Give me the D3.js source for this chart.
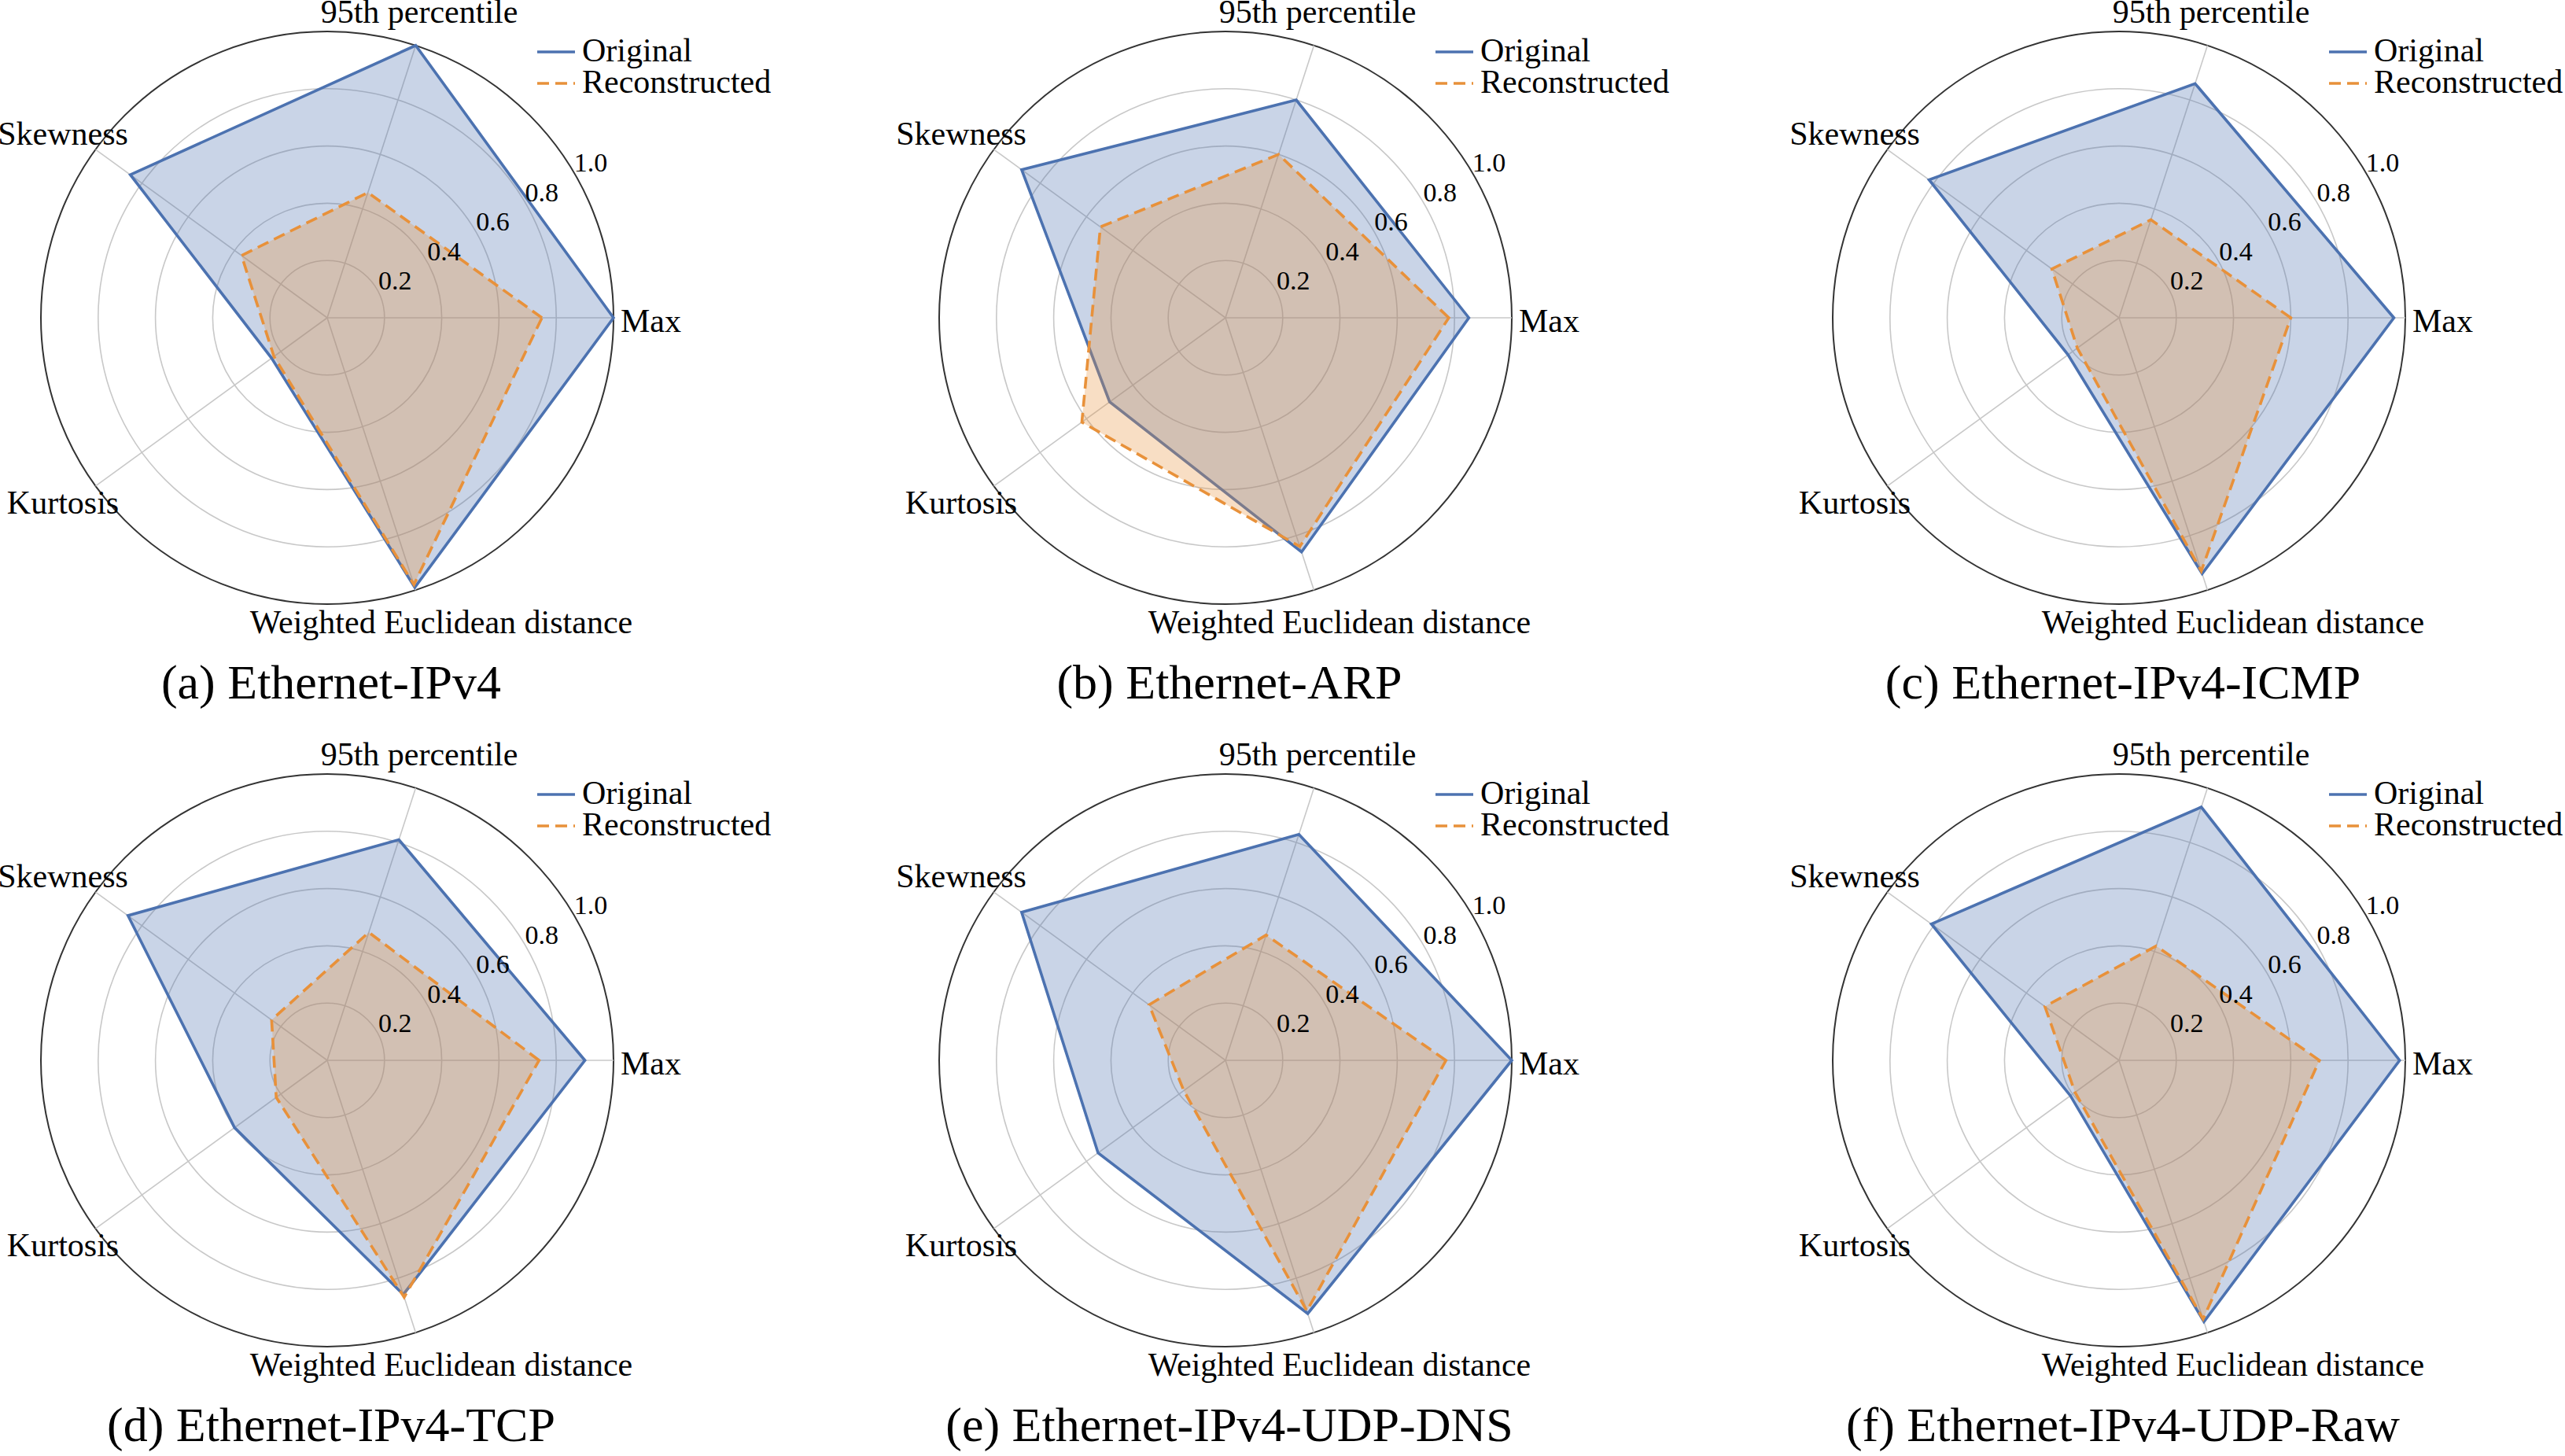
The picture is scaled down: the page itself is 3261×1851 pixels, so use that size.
<!DOCTYPE html>
<html>
<head>
<meta charset="utf-8">
<script src="https://cdn.jsdelivr.net/npm/d3@7"></script>
<style>
  body { margin: 0; background: #fff; }
  text { font-family: "Liberation Serif", "DejaVu Serif", serif; fill: #000; }
</style>
</head>
<body>
<script>
// axes, starting at the right and going counter-clockwise
var axes = ["Max", "95th percentile", "Skewness", "Kurtosis", "Weighted Euclidean distance"];
var ticks = [0.2, 0.4, 0.6, 0.8, 1.0];
var titles = ["(a) Ethernet-IPv4", "(b) Ethernet-ARP", "(c) Ethernet-IPv4-ICMP",
              "(d) Ethernet-IPv4-TCP", "(e) Ethernet-IPv4-UDP-DNS", "(f) Ethernet-IPv4-UDP-Raw"];
// values per panel, order of axes above
var original = [
  [1.00, 1.00, 0.85, 0.24, 0.99],
  [0.85, 0.80, 0.88, 0.50, 0.86],
  [0.96, 0.86, 0.82, 0.22, 0.94],
  [0.90, 0.81, 0.86, 0.40, 0.86],
  [1.00, 0.83, 0.88, 0.55, 0.93],
  [0.98, 0.93, 0.81, 0.21, 0.96]
];
var reconstructed = [
  [0.75, 0.46, 0.37, 0.23, 0.98],
  [0.78, 0.60, 0.54, 0.62, 0.84],
  [0.60, 0.36, 0.29, 0.18, 0.93],
  [0.74, 0.47, 0.24, 0.22, 0.87],
  [0.77, 0.46, 0.33, 0.18, 0.92],
  [0.70, 0.42, 0.32, 0.19, 0.95]
];

var W = 3261, H = 1851;
var R = 364;
var colX = [416, 1558, 2694];
var rowY = [404, 1348];
var blue = "#4C72B0", orange = "#E8913A";

var svg = d3.select("body").append("svg")
    .attr("width", W)
    .attr("height", H);

var r = d3.scaleLinear().domain([0, 1]).range([0, R]);
var ang = function(i) { return Math.PI / 2 - i * 2 * Math.PI / axes.length; };

var radar = d3.lineRadial()
    .angle(function(d, i) { return ang(i); })
    .radius(function(d) { return r(d); })
    .curve(d3.curveLinearClosed);

// label offsets from the centre
var labelPos = [
  {dx: 373, dy: 18, anchor: "start"},
  {dx: 117, dy: -375, anchor: "middle"},
  {dx: -336, dy: -220, anchor: "middle"},
  {dx: -336, dy: 249, anchor: "middle"},
  {dx: 145, dy: 401, anchor: "middle"}
];

titles.forEach(function(title, p) {
  var g = svg.append("g")
      .attr("transform", "translate(" + colX[p % 3] + "," + rowY[Math.floor(p / 3)] + ")");

  // grid rings
  g.selectAll(".ring").data(ticks).enter().append("circle")
      .attr("r", function(d) { return r(d); })
      .attr("fill", "none")
      .attr("stroke", function(d) { return d === 1 ? "#333" : "#c8c8c8"; })
      .attr("stroke-width", function(d) { return d === 1 ? 2 : 1.6; });

  // spokes
  g.selectAll(".spoke").data(axes).enter().append("line")
      .attr("x1", 0).attr("y1", 0)
      .attr("x2", function(d, i) { return r(1) * Math.sin(ang(i)); })
      .attr("y2", function(d, i) { return -r(1) * Math.cos(ang(i)); })
      .attr("stroke", "#c8c8c8")
      .attr("stroke-width", 1.6);

  // series
  g.append("path").attr("d", radar(original[p]))
      .attr("fill", blue).attr("fill-opacity", 0.3)
      .attr("stroke", blue).attr("stroke-width", 3.6);
  g.append("path").attr("d", radar(reconstructed[p]))
      .attr("fill", orange).attr("fill-opacity", 0.3)
      .attr("stroke", orange).attr("stroke-width", 3.6)
      .attr("stroke-dasharray", "15,8");

  // tick labels
  g.selectAll(".tick").data(ticks).enter().append("text")
      .attr("x", function(d) { return 24 + d * 311; })
      .attr("y", function(d) { return (1.5 - 207.5 * d) / 1.11; })
      .attr("text-anchor", "middle")
      .style("font-size", "34px")
      .text(function(d) { return d3.format(".1f")(d); });

  // axis labels
  g.selectAll(".axlab").data(axes).enter().append("text")
      .attr("x", function(d, i) { return labelPos[i].dx; })
      .attr("y", function(d, i) { return labelPos[i].dy; })
      .attr("text-anchor", function(d, i) { return labelPos[i].anchor; })
      .style("font-size", "42px")
      .text(function(d) { return d; });

  // legend
  var leg = [{name: "Original", c: blue, dash: null, y: -338},
             {name: "Reconstructed", c: orange, dash: "15,8", y: -298}];
  leg.forEach(function(l) {
    g.append("line").attr("x1", 267).attr("x2", 315)
        .attr("y1", l.y).attr("y2", l.y)
        .attr("stroke", l.c).attr("stroke-width", 3.6)
        .attr("stroke-dasharray", l.dash);
    g.append("text").attr("x", 324).attr("y", l.y + 12)
        .style("font-size", "42px").text(l.name);
  });

  // panel title
  g.append("text").attr("x", 5).attr("y", 484)
      .attr("text-anchor", "middle")
      .style("font-size", "62px")
      .text(title);
});
</script>
</body>
</html>
